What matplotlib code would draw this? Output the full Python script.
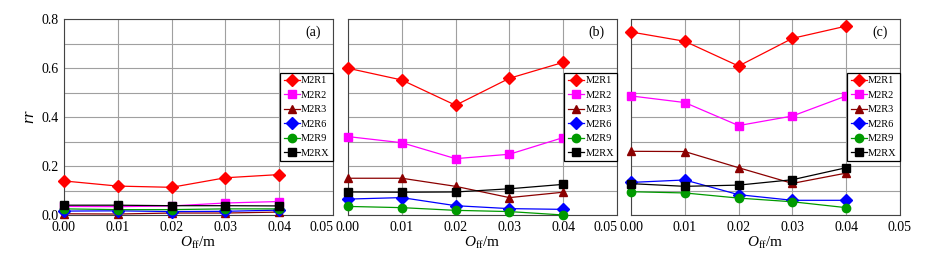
import matplotlib
matplotlib.use("Agg")
import matplotlib.pyplot as plt

plt.rcParams['font.family'] = ['Liberation Serif', 'DejaVu Serif']
plt.rcParams['mathtext.fontset'] = 'custom'
plt.rcParams['mathtext.rm'] = 'Liberation Serif'
plt.rcParams['mathtext.it'] = 'Liberation Serif:italic'

x = [0.00, 0.01, 0.02, 0.03, 0.04]
series = ["M2R1", "M2R2", "M2R3", "M2R6", "M2R9", "M2RX"]
panel_labels = ["(a)", "(b)", "(c)"]

# rr values per panel, per series
a_vals = {
    "M2R1": [0.139, 0.118, 0.113, 0.152, 0.165],
    "M2R2": [0.035, 0.034, 0.037, 0.049, 0.055],
    "M2R3": [0.005, 0.004, 0.008, 0.008, 0.012],
    "M2R6": [0.016, 0.017, 0.014, 0.015, 0.020],
    "M2R9": [0.025, 0.022, 0.022, 0.025, 0.025],
    "M2RX": [0.040, 0.040, 0.038, 0.038, 0.037],
}
b_vals = {
    "M2R1": [0.599, 0.551, 0.448, 0.558, 0.623],
    "M2R2": [0.320, 0.295, 0.230, 0.248, 0.316],
    "M2R3": [0.150, 0.150, 0.117, 0.071, 0.093],
    "M2R6": [0.065, 0.071, 0.038, 0.026, 0.023],
    "M2R9": [0.035, 0.030, 0.019, 0.014, 0.000],
    "M2RX": [0.094, 0.093, 0.094, 0.107, 0.125],
}
c_vals = {
    "M2R1": [0.747, 0.709, 0.608, 0.721, 0.771],
    "M2R2": [0.486, 0.459, 0.365, 0.404, 0.486],
    "M2R3": [0.260, 0.259, 0.193, 0.129, 0.171],
    "M2R6": [0.133, 0.143, 0.083, 0.060, 0.060],
    "M2R9": [0.095, 0.090, 0.069, 0.054, 0.030],
    "M2RX": [0.128, 0.117, 0.122, 0.144, 0.193],
}

colors = {"M2R1": "#ff0000", "M2R2": "#ff00ff", "M2R3": "#8b0000",
          "M2R6": "#0000ff", "M2R9": "#009a00", "M2RX": "#000000"}
markers = {"M2R1": "D", "M2R2": "s", "M2R3": "^",
           "M2R6": "D", "M2R9": "o", "M2RX": "s"}

fig = plt.figure(figsize=(9.27, 2.56), dpi=100)
lefts = [64, 348, 631]
for i, vals in enumerate([a_vals, b_vals, c_vals]):
    ax = fig.add_axes([lefts[i] / 927, 41 / 256, 269 / 927, 196 / 256])
    for s in series:
        ax.plot(x, vals[s], color=colors[s], marker=markers[s], lw=0.9,
                markersize=6, label=s, clip_on=False, zorder=3)
    ax.set_xlim(0, 0.05)
    ax.set_ylim(0, 0.8)
    ax.set_xticks([0, 0.01, 0.02, 0.03, 0.04, 0.05])
    ax.set_xticklabels(["0.00", "0.01", "0.02", "0.03", "0.04", "0.05"])
    if i < 2:
        ax.get_xticklabels()[-1].set_horizontalalignment("right")
    ax.set_yticks([0, 0.1, 0.2, 0.3, 0.4, 0.5, 0.6, 0.7, 0.8])
    if i == 0:
        ax.set_yticklabels(["0.0", "", "0.2", "", "0.4", "", "0.6", "", "0.8"])
        ax.set_ylabel(r"$rr$", fontsize=12, labelpad=2)
    else:
        ax.set_yticklabels([])
    ax.tick_params(length=0, labelsize=10, pad=4)
    ax.grid(True, color="#a0a0a0", lw=0.8)
    for sp in ax.spines.values():
        sp.set_color("#444444")
        sp.set_linewidth(0.8)
    ax.set_xlabel(r"$O_{\rm ff}$/m", fontsize=11, labelpad=1)
    ax.text(0.925, 0.93, panel_labels[i], transform=ax.transAxes,
            ha="center", va="center", fontsize=10)
    leg = ax.legend(loc="center right", fontsize=7.5, borderaxespad=0,
                    handlelength=1.6, handletextpad=0.1, labelspacing=0.5,
                    borderpad=0.3, fancybox=False, framealpha=1,
                    markerscale=1.0)
    leg.get_frame().set_edgecolor("black")
    leg.get_frame().set_linewidth(0.9)

fig.savefig("out.png", dpi=100)
